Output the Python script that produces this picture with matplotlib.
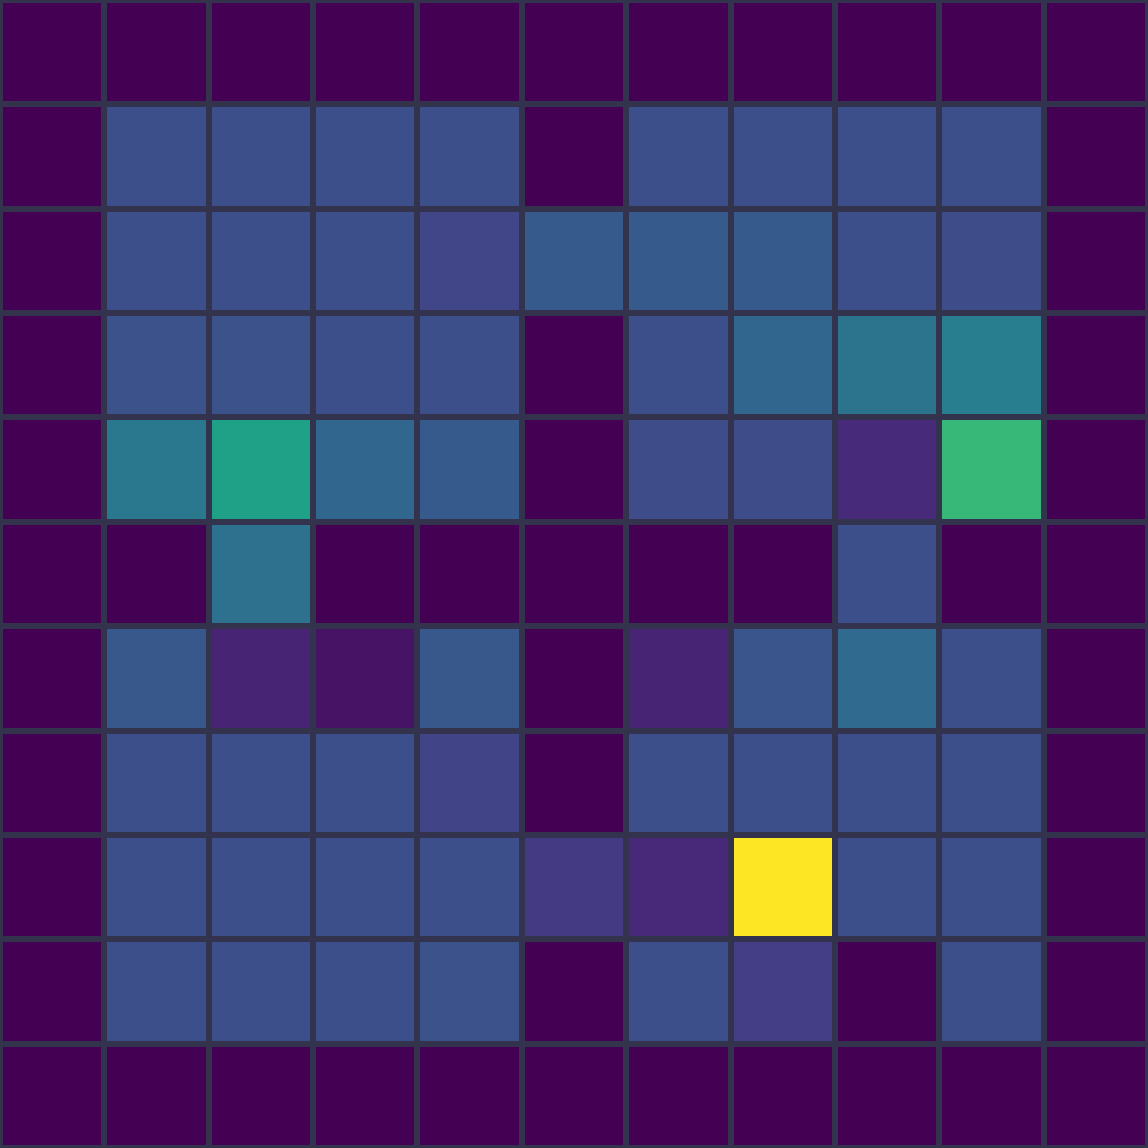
import matplotlib
matplotlib.use("Agg")
import matplotlib.pyplot as plt
import numpy as np

# cell values, top row first
row0 = [0, 0, 0, 0, 0, 0, 0, 0, 0, 0, 0]
row1 = [0, .24, .24, .24, .24, 0, .24, .24, .24, .24, 0]
row2 = [0, .24, .24, .24, .21, .28, .28, .28, .24, .23, 0]
row3 = [0, .25, .25, .24, .24, 0, .24, .33, .38, .42, 0]
row4 = [0, .40, .57, .33, .28, 0, .23, .23, .12, .67, 0]
row5 = [0, 0, .37, 0, 0, 0, 0, 0, .24, 0, 0]
row6 = [0, .27, .10, .05, .27, 0, .10, .26, .34, .24, 0]
row7 = [0, .24, .24, .24, .20, 0, .24, .24, .24, .24, 0]
row8 = [0, .24, .24, .24, .24, .17, .11, 1.0, .24, .24, 0]
row9 = [0, .24, .24, .24, .25, 0, .24, .18, 0, .24, 0]
row10 = [0, 0, 0, 0, 0, 0, 0, 0, 0, 0, 0]

grid = np.array([row0, row1, row2, row3, row4, row5,
                 row6, row7, row8, row9, row10])

fig = plt.figure(figsize=(11.48, 11.48), dpi=100)
ax = fig.add_axes([0, 0, 1, 1])
ax.pcolormesh(grid, cmap="viridis", vmin=0, vmax=1,
              edgecolors="#33334d", linewidth=3)
ax.set_xlim(0, grid.shape[1])
ax.set_ylim(grid.shape[0], 0)
ax.set_aspect("auto")
ax.axis("off")

fig.savefig("out.png", dpi=100, facecolor="#33334d")
